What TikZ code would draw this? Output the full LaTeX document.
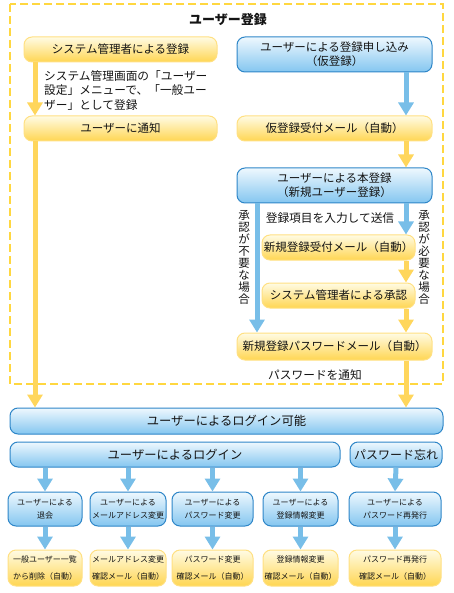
\documentclass[tikz,border=0pt]{standalone}
\usepackage{fontspec}
\setmainfont{Noto Sans CJK JP}
\usetikzlibrary{arrows.meta}
\definecolor{ydash}{RGB}{255,215,64}
\definecolor{ytop}{RGB}{255,251,228}
\definecolor{ybot}{RGB}{255,214,82}
\definecolor{yline}{RGB}{255,224,130}
\definecolor{btop}{RGB}{238,248,254}
\definecolor{bbot}{RGB}{132,198,240}
\definecolor{bline}{RGB}{46,134,200}
\definecolor{yarr}{RGB}{255,214,92}
\definecolor{barr}{RGB}{120,190,232}
\definecolor{ink}{RGB}{20,20,20}
\tikzset{
  box/.style={rounded corners=8pt, line width=1pt, minimum height=25pt, inner sep=0pt,
    align=center, text=ink, font=\fontsize{11.5}{14}\selectfont},
  ybox/.style={box, draw=yline, top color=ytop, bottom color=ybot},
  bbox/.style={box, draw=bline, top color=btop, bottom color=bbot},
  smallbox/.style={minimum height=34pt, font=\fontsize{8}{13}\selectfont},
  lowbox/.style={minimum height=36pt, font=\fontsize{8}{17}\selectfont},
  yarrow/.style={draw=yarr, line width=5pt, -{Triangle[width=15pt,length=13pt]}},
  barrow/.style={draw=barr, line width=5pt, -{Triangle[width=15pt,length=13pt]}},
  memo/.style={text=ink, font=\fontsize{11.7}{14.5}\selectfont},
  vtext/.style={text=ink, align=center, inner sep=0pt, font=\fontsize{11.5}{12}\selectfont},
}
\begin{document}
\begin{tikzpicture}[x=1pt, y=-1pt]
\useasboundingbox (0,0) rectangle (453,593);

\draw[ydash, line width=2.5pt, dash pattern=on 8pt off 4pt] (10,4) rectangle (443,384);
\node[memo, font=\fontsize{13}{15}\selectfont\bfseries] (title) at (228,20) {ユーザー登録};

\coordinate (lcol) at (35,0);
\coordinate (mcol) at (257,0);
\coordinate (rcol) at (406,0);

\node[ybox, minimum width=193pt] (sysreg) at (120.5,49.5) {システム管理者による登録};
\node[bbox, minimum width=195pt, minimum height=35pt] (userapp) at (334.5,54.5) {ユーザーによる登録申し込み\\（仮登録）};
\node[memo, anchor=north west, align=left, inner sep=0pt] (howto) at (44,70) {システム管理画面の「ユーザー\\設定」メニューで、「一般ユー\\ザー」として登録};
\node[ybox, minimum width=193pt] (notify) at (120.5,128.5) {ユーザーに通知};
\node[ybox, minimum width=195pt] (provmail) at (334.5,128.5) {仮登録受付メール（自動）};
\node[bbox, minimum width=195pt, minimum height=35pt] (mainreg) at (334.5,185.5) {ユーザーによる本登録\\（新規ユーザー登録）};
\node[memo] (input) at (330,218) {登録項目を入力して送信};
\node[ybox, minimum width=153pt] (recvmail) at (338.5,247.5) {新規登録受付メール（自動）};
\node[ybox, minimum width=153pt] (approve) at (338.5,295.5) {システム管理者による承認};
\node[ybox, minimum width=195pt, minimum height=27pt] (pwmail) at (334.5,346.5) {新規登録パスワードメール（自動）};
\node[memo] (pwnote) at (315,375) {パスワードを通知};
\node[vtext] (noappr) at (244,257) {承\\認\\が\\不\\要\\な\\場\\合};
\node[vtext] (needappr) at (424,257) {承\\認\\が\\必\\要\\な\\場\\合};

\node[bbox, minimum width=433pt, minimum height=26pt, font=\fontsize{12.3}{14}\selectfont] (loginok) at (226.5,421) {ユーザーによるログイン可能};
\node[bbox, minimum width=330pt, font=\fontsize{12.3}{14}\selectfont] (login) at (175,454.5) {ユーザーによるログイン};
\node[bbox, minimum width=92pt, font=\fontsize{12}{14}\selectfont] (forget) at (396,454.5) {パスワード忘れ};

\node[bbox, smallbox, minimum width=74pt] (quit) at (45,509) {ユーザーによる\\退会};
\node[bbox, smallbox, minimum width=76pt] (mailchg) at (128,509) {ユーザーによる\\メールアドレス変更};
\node[bbox, smallbox, minimum width=81pt] (pwchg) at (212.5,509) {ユーザーによる\\パスワード変更};
\node[bbox, smallbox, minimum width=75pt] (infochg) at (300.5,509) {ユーザーによる\\登録情報変更};
\node[bbox, smallbox, minimum width=92pt] (reissue) at (395,509) {ユーザーによる\\パスワード再発行};

\node[ybox, lowbox, minimum width=74pt] (delmail) at (45,568) {一般ユーザー一覧\\から削除（自動）};
\node[ybox, lowbox, minimum width=76pt] (mailconf) at (128,568) {メールアドレス変更\\確認メール（自動）};
\node[ybox, lowbox, minimum width=81pt] (pwconf) at (212.5,568) {パスワード変更\\確認メール（自動）};
\node[ybox, lowbox, minimum width=75pt] (infoconf) at (300.5,568) {登録情報変更\\確認メール（自動）};
\node[ybox, lowbox, minimum width=92pt] (reissueconf) at (395,568) {パスワード再発行\\確認メール（自動）};

\draw[yarrow] (sysreg.south -| lcol) -- (notify.north -| lcol);
\draw[yarrow] (notify.south -| lcol) -- (loginok.north -| lcol);
\draw[barrow] (userapp.south -| rcol) -- (provmail.north -| rcol);
\draw[yarrow] (provmail.south -| rcol) -- (mainreg.north -| rcol);
\draw[barrow] (mainreg.south -| rcol) -- (recvmail.north -| rcol);
\draw[yarrow] (recvmail.south -| rcol) -- (approve.north -| rcol);
\draw[yarrow] (approve.south -| rcol) -- (pwmail.north -| rcol);
\draw[barrow] (mainreg.south -| mcol) -- (pwmail.north -| mcol);
\draw[yarrow] (pwmail.south -| rcol) -- (loginok.north -| rcol);

\draw[barrow] (login.south -| quit) -- (quit.north);
\draw[barrow] (login.south -| mailchg) -- (mailchg.north);
\draw[barrow] (login.south -| pwchg) -- (pwchg.north);
\draw[barrow] (login.south -| infochg) -- (infochg.north);
\draw[barrow] (forget.south) -- (reissue.north);
\draw[barrow] (quit.south) -- (delmail.north);
\draw[barrow] (mailchg.south) -- (mailconf.north);
\draw[barrow] (pwchg.south) -- (pwconf.north);
\draw[barrow] (infochg.south) -- (infoconf.north);
\draw[barrow] (reissue.south) -- (reissueconf.north);

\end{tikzpicture}
\end{document}
